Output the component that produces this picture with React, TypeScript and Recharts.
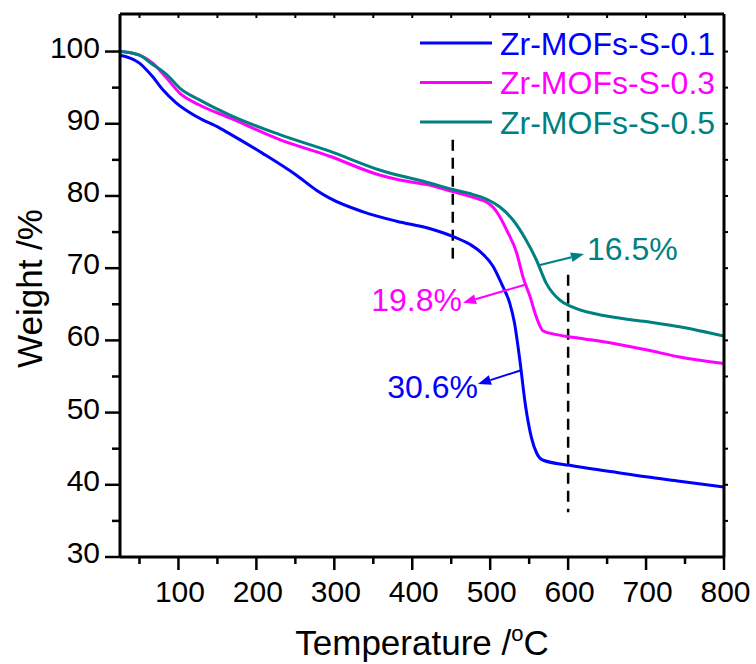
import React from 'react';
import { LineChart, Line, XAxis, YAxis, ReferenceLine, ReferenceDot, Legend } from 'recharts';

const FONT = '"Liberation Sans", Arial, Helvetica, sans-serif';

// ---------- data ----------
const seriesNames = ['Zr-MOFs-S-0.1', 'Zr-MOFs-S-0.3', 'Zr-MOFs-S-0.5'];
const seriesColors = ['#0000FF', '#FF00FF', '#008080'];

const s01Temp = [25, 50, 67, 80, 97, 123, 153, 166, 208, 251, 277, 294, 337, 380, 422, 452, 474, 487, 504, 516, 525, 531, 538, 545, 553, 560, 568, 602, 657, 700, 743, 800];
const s01Weight = [99.5, 98.4, 96.5, 94.7, 92.9, 91.0, 89.4, 88.6, 85.9, 82.9, 80.8, 79.7, 77.8, 76.5, 75.5, 74.4, 73.3, 72.3, 70.2, 67.5, 65.2, 62.5, 57.3, 51.2, 46.5, 44.3, 43.4, 42.7, 41.8, 41.1, 40.5, 39.7];

const s03Temp = [25, 40, 50, 67, 85, 102, 127, 166, 230, 294, 358, 384, 422, 452, 475, 487, 496, 504, 512, 521, 534, 542, 551, 559, 568, 585, 615, 657, 700, 743, 800];
const s03Weight = [100.0, 99.8, 99.5, 98.4, 96.3, 94.2, 92.6, 90.8, 87.8, 85.5, 82.9, 82.2, 81.5, 80.6, 79.9, 79.5, 79.1, 78.4, 77.2, 75.3, 72.1, 68.8, 66.1, 63.3, 61.3, 60.8, 60.3, 59.6, 58.7, 57.7, 56.8];

const s05Temp = [25, 40, 50, 67, 85, 102, 127, 166, 230, 294, 358, 422, 452, 475, 487, 500, 512, 529, 546, 559, 572, 589, 606, 653, 700, 743, 800];
const s05Weight = [100.0, 99.8, 99.5, 98.2, 96.8, 94.9, 93.3, 91.2, 88.5, 86.2, 83.6, 81.8, 80.9, 80.3, 79.9, 79.3, 78.5, 76.7, 73.9, 71.2, 67.9, 65.6, 64.6, 63.3, 62.6, 61.9, 60.6];

const xTicks = [50, 100, 150, 200, 250, 300, 350, 400, 450, 500, 550, 600, 650, 700, 750, 800];
const topTicks = [50, 100, 150, 200, 250, 300, 350, 400, 450, 500, 550, 600, 650, 700, 750];
const yTicks = [30, 35, 40, 45, 50, 55, 60, 65, 70, 75, 80, 85, 90, 95, 100];
const rightTicks = [35, 40, 45, 50, 55, 60, 65, 70, 75, 80, 85, 90, 95, 100];

// dashed guide lines: temperature, weight from, weight to
const guideTemps = [452, 600];
const guideFrom = [87.8, 69.1];
const guideTo = [70.7, 36.2];

// annotations: arrow from (fromT, fromW) to tip (toT, toW); label at (labelT, labelW)
const annoText = ['16.5%', '19.8%', '30.6%'];
const annoColors = ['#008080', '#FF00FF', '#0000FF'];
const annoFromT = [562.6, 544.6, 540.8];
const annoFromW = [70.4, 67.7, 55.9];
const annoToT = [620.3, 465.1, 484.3];
const annoToW = [71.95, 65.2, 53.95];
const annoLabelT = [624.2, 463.8, 484.3];
const annoLabelW = [71.1, 64.06, 52.0];
const annoAnchor = ['start', 'end', 'end'];

const X_DOMAIN: [number, number] = [25, 800];
const Y_DOMAIN: [number, number] = [30, 105.2];

const build = (t: number[], w: number[]) => t.map((x, i) => ({ t: x, w: w[i] }));
const seriesData = [build(s01Temp, s01Weight), build(s03Temp, s03Weight), build(s05Temp, s05Weight)];

// ---------- ticks ----------
const LeftTick = (p: any) => {
  const v = p.payload.value;
  const ax = p.x + 18;
  const major = v % 10 === 0;
  return (
    <g>
      <line x1={ax - (major ? 15 : 8)} x2={ax} y1={p.y} y2={p.y} stroke="#000" strokeWidth={2.5} />
      {major && (
        <text x={ax - 20} y={p.y + 6} textAnchor="end" fontSize={30} fontFamily={FONT} fill="#000">
          {v}
        </text>
      )}
    </g>
  );
};

const BottomTick = (p: any) => {
  const v = p.payload.value;
  const ay = p.y - 16;
  const major = v % 100 === 0;
  return (
    <g>
      <line x1={p.x} x2={p.x} y1={ay} y2={ay + (major ? 13 : 7)} stroke="#000" strokeWidth={2.5} />
      {major && (
        <text x={p.x + 1.5} y={ay + 44.5} textAnchor="middle" fontSize={30} fontFamily={FONT} fill="#000">
          {v}
        </text>
      )}
    </g>
  );
};

const TopTick = (p: any) => (
  <line x1={p.x} x2={p.x} y1={p.y} y2={p.y + 4} stroke="#000" strokeWidth={2} />
);

const RightTick = (p: any) => (
  <line x1={p.x} x2={p.x + 4} y1={p.y} y2={p.y} stroke="#000" strokeWidth={2} />
);

// ---------- titles ----------
const XTitle = (props: any) => {
  const vb = props.viewBox;
  return (
    <text x={vb.x + vb.width / 2} y={vb.y + 98} textAnchor="middle" fontSize={35} fontFamily={FONT} fill="#000">
      Temperature /
      <tspan fontSize={22} dy={-14}>o</tspan>
      <tspan dy={14}>C</tspan>
    </text>
  );
};

const YTitle = (props: any) => {
  const vb = props.viewBox;
  const cx = 42;
  const cy = vb.y + vb.height / 2 + 3;
  return (
    <text x={cx} y={cy} transform={`rotate(-90 ${cx} ${cy})`} textAnchor="middle" fontSize={35} fontFamily={FONT} fill="#000">
      Weight /%
    </text>
  );
};

// ---------- legend ----------
const LegendContent = () => (
  <svg width={320} height={120} style={{ display: 'block' }}>
    {seriesNames.map((n, i) => {
      const cy = 21 + i * 39.5;
      return (
        <g key={n}>
          <line x1={0} x2={72} y1={cy} y2={cy} stroke={seriesColors[i]} strokeWidth={3} />
          <text x={80} y={cy + 11.5} fontSize={32} fontFamily={FONT} fill={seriesColors[i]}>
            {n}
          </text>
        </g>
      );
    })}
  </svg>
);

// ---------- annotation shapes ----------
const makeArrow = (color: string) => (p: any) => {
  const { x1, y1, x2, y2 } = p;
  const dx = x2 - x1;
  const dy = y2 - y1;
  const len = Math.sqrt(dx * dx + dy * dy) || 1;
  const ux = dx / len;
  const uy = dy / len;
  const hl = 13;
  const hw = 5;
  const bx = x2 - ux * hl;
  const by = y2 - uy * hl;
  const pts = `${x2},${y2} ${bx - uy * hw},${by + ux * hw} ${bx + uy * hw},${by - ux * hw}`;
  return (
    <g>
      <line x1={x1} y1={y1} x2={bx} y2={by} stroke={color} strokeWidth={2} />
      <polygon points={pts} fill={color} />
    </g>
  );
};

const makeLabel = (text: string, color: string, anchor: string) => (p: any) => (
  <text x={p.cx} y={p.cy} textAnchor={anchor as any} fontSize={32} fontFamily={FONT} fill={color}>
    {text}
  </text>
);

const DashedGuide = (p: any) => (
  <line x1={p.x1} y1={p.y1} x2={p.x2} y2={p.y2} stroke="#000" strokeWidth={2.5} strokeDasharray="11 7" />
);

export default function App() {
  return (
    <div style={{ position: 'absolute', left: 0, top: 0, background: '#fff' }}>
      <LineChart width={756} height={664} margin={{ top: 0, right: 0, bottom: 0, left: 0 }}>
        <XAxis
          xAxisId="bottom"
          type="number"
          dataKey="t"
          domain={X_DOMAIN}
          allowDataOverflow
          ticks={xTicks}
          interval={0}
          height={107}
          tickSize={12}
          tickMargin={4}
          tickLine={false}
          tick={<BottomTick />}
          axisLine={{ stroke: '#000', strokeWidth: 3 }}
          label={(props: any) => <XTitle {...props} />}
        />
        <XAxis
          xAxisId="top"
          orientation="top"
          type="number"
          dataKey="t"
          domain={X_DOMAIN}
          allowDataOverflow
          ticks={topTicks}
          interval={0}
          height={14}
          tickSize={0}
          tickMargin={0}
          tickLine={false}
          tick={<TopTick />}
          axisLine={{ stroke: '#000', strokeWidth: 3 }}
        />
        <YAxis
          yAxisId="left"
          type="number"
          dataKey="w"
          domain={Y_DOMAIN}
          allowDataOverflow
          ticks={yTicks}
          interval={0}
          width={120}
          tickSize={14}
          tickMargin={4}
          tickLine={false}
          tick={<LeftTick />}
          axisLine={{ stroke: '#000', strokeWidth: 3 }}
          label={(props: any) => <YTitle {...props} />}
        />
        <YAxis
          yAxisId="right"
          orientation="right"
          type="number"
          dataKey="w"
          domain={Y_DOMAIN}
          allowDataOverflow
          ticks={rightTicks}
          interval={0}
          width={32}
          tickSize={0}
          tickMargin={0}
          tickLine={false}
          tick={<RightTick />}
          axisLine={{ stroke: '#000', strokeWidth: 3 }}
        />
        <Legend
          verticalAlign="middle"
          align="center"
          layout="vertical"
          wrapperStyle={{ position: 'absolute', left: 420, top: 22, width: 320, height: 120 }}
          content={() => <LegendContent />}
        />
        {guideTemps.map((t, i) => (
          <ReferenceLine
            key={`g${i}`}
            xAxisId="bottom"
            yAxisId="left"
            segment={[{ x: t, y: guideFrom[i] }, { x: t, y: guideTo[i] }]}
            shape={DashedGuide}
          />
        ))}
        {seriesData.map((d, i) => (
          <Line
            key={seriesNames[i]}
            xAxisId="bottom"
            yAxisId="left"
            data={d}
            dataKey="w"
            name={seriesNames[i]}
            type="monotone"
            stroke={seriesColors[i]}
            strokeWidth={3}
            dot={false}
            activeDot={false}
            isAnimationActive={false}
          />
        ))}
        {annoText.map((txt, i) => (
          <ReferenceLine
            key={`a${i}`}
            xAxisId="bottom"
            yAxisId="left"
            segment={[{ x: annoFromT[i], y: annoFromW[i] }, { x: annoToT[i], y: annoToW[i] }]}
            shape={makeArrow(annoColors[i])}
          />
        ))}
        {annoText.map((txt, i) => (
          <ReferenceDot
            key={`l${i}`}
            xAxisId="bottom"
            yAxisId="left"
            x={annoLabelT[i]}
            y={annoLabelW[i]}
            r={0}
            shape={makeLabel(txt, annoColors[i], annoAnchor[i])}
          />
        ))}
      </LineChart>
    </div>
  );
}
